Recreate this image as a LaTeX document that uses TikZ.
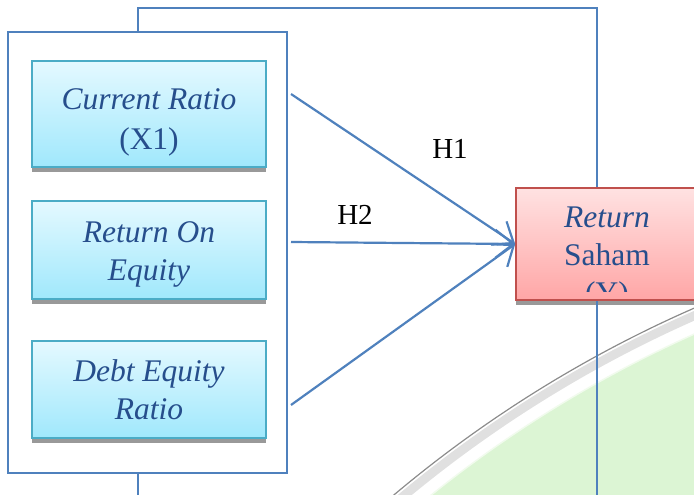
\documentclass[tikz,border=0pt]{standalone}
\usepackage{fontspec}
\setmainfont{Liberation Serif}
\usetikzlibrary{arrows.meta,shadows,positioning}
\definecolor{linkblue}{RGB}{79,129,189}
\definecolor{textblue}{RGB}{38,78,140}
\definecolor{aquaedge}{RGB}{75,172,198}
\definecolor{aquatop}{RGB}{228,249,255}
\definecolor{aquabot}{RGB}{160,232,252}
\definecolor{rededge}{RGB}{192,80,77}
\definecolor{redtop}{RGB}{255,226,226}
\definecolor{redbot}{RGB}{255,166,166}
\definecolor{leafgreen}{RGB}{220,245,212}

\begin{document}
\begin{tikzpicture}[x=1pt,y=-1pt,
  varbox/.style={rectangle,draw=aquaedge,line width=1.6pt,top color=aquatop,bottom color=aquabot,
    minimum width=234pt,inner sep=0pt,align=center,text=textblue,font=\fontsize{31.5}{38}\selectfont,
    drop shadow={shadow xshift=0pt,shadow yshift=-5pt,fill=black!40,opacity=1}},
  retbox/.style={rectangle,draw=rededge,line width=1.6pt,top color=redtop,bottom color=redbot,
    minimum width=182pt,minimum height=112pt,inner sep=0pt,
    drop shadow={shadow xshift=0pt,shadow yshift=-5pt,fill=black!40,opacity=1}},
  rettext/.style={align=center,text=textblue,inner sep=0pt,font=\fontsize{31.5}{38}\selectfont},
  grpbox/.style={rectangle,draw=linkblue,line width=1.3pt,minimum width=279pt,minimum height=441pt,inner sep=0pt},
  frame/.style={draw=linkblue,line width=1.3pt},
  link/.style={draw=linkblue,line width=2.2pt,-{Straight Barb[length=18pt,width=28pt]}},
  hlabel/.style={inner sep=0pt,font=\fontsize{29}{34}\selectfont}]
  \useasboundingbox (0,0) rectangle (694,495);
  \clip (0,0) rectangle (694,495);

  % faint logo in the background
  \fill[leafgreen] (1189,1440) circle[radius=1212pt];
  \draw[white,opacity=.6,line width=7pt] (1189,1440) circle[radius=1214pt];
  \draw[black!12,line width=9pt] (1189,1440) circle[radius=1228pt];
  \draw[black!45,line width=1.2pt] (1189,1440) circle[radius=1235pt];

  \node[grpbox] (grp) at (147.5,252.5) {};
  \node[varbox,minimum height=106pt] (cr)  at (149,114)   {\rule{0pt}{38pt}\textit{Current Ratio}\\[2pt](X1)};
  \node[varbox,minimum height=98pt]  (roe) at (149,250)   {\rule{0pt}{30pt}\textit{Return On}\\\textit{Equity}};
  \node[varbox,minimum height=97pt]  (der) at (149,389.5) {\textit{Debt Equity}\\\textit{Ratio}};

  \node[retbox] (ret) at (607,244) {};
  \begin{scope}
    \clip ([yshift=9pt]ret.south west) rectangle (ret.north east);
    \node[rettext] (retlbl) at (607,259) {\textit{Return}\\Saham\\(Y)};
  \end{scope}

  \node[hlabel] (h1) at (450,149) {H1};
  \node[hlabel] (h2) at (355,215) {H2};

  \coordinate (a1) at (291,94);
  \coordinate (a2) at (291,242);
  \coordinate (a3) at (291,405);
  \coordinate (t1) at (138,8);
  \coordinate (t2) at (597,8);
  \coordinate (b1) at (138,495);
  \coordinate (b2) at (597,495);

  \path
    (a1) edge[link] (ret.west)
    (a2) edge[link] (ret.west)
    (a3) edge[link] (ret.west);

  \draw[frame] (t1 |- grp.north) -- (t1) -- (t2) -- (t2 |- ret.north);
  \draw[frame] (t1 |- grp.south) -- (b1);
  \draw[frame] (b2 |- ret.south) -- (b2);
\end{tikzpicture}
\end{document}
